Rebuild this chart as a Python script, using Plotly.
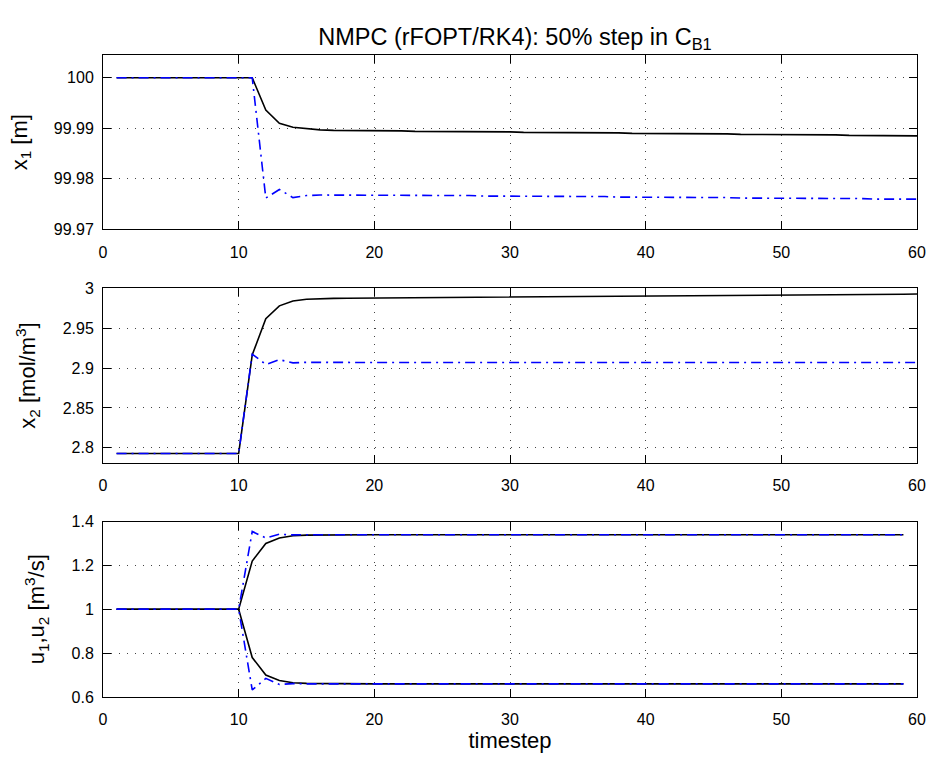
import plotly.graph_objects as go

# ---------------- data ----------------
t_states = [1, 2, 3, 4, 5, 6, 7, 8, 9, 10, 11, 12, 13, 14, 15, 16, 17, 18, 19, 20,
            21, 22, 23, 24, 25, 26, 27, 28, 29, 30, 31, 32, 33, 34, 35, 36, 37, 38, 39, 40,
            41, 42, 43, 44, 45, 46, 47, 48, 49, 50, 51, 52, 53, 54, 55, 56, 57, 58, 59, 60]
t_inputs = t_states[:59]

x1_black = [100.0, 100.0, 100.0, 100.0, 100.0, 100.0, 100.0, 100.0, 100.0, 100.0,
            100.0, 99.9936, 99.9910, 99.9902, 99.9899, 99.9897, 99.9896, 99.9896, 99.9895, 99.9895,
            99.9895, 99.9895, 99.9894, 99.9894, 99.9894, 99.9894, 99.9893, 99.9893, 99.9893, 99.9893,
            99.9892, 99.9892, 99.9892, 99.9892, 99.9891, 99.9891, 99.9891, 99.9891, 99.9890, 99.9890,
            99.9890, 99.9890, 99.9889, 99.9889, 99.9889, 99.9889, 99.9888, 99.9888, 99.9888, 99.9888,
            99.9887, 99.9887, 99.9887, 99.9887, 99.9886, 99.9886, 99.9886, 99.9886, 99.9885, 99.9885]
x1_blue = [100.0, 100.0, 100.0, 100.0, 100.0, 100.0, 100.0, 100.0, 100.0, 100.0,
           100.0, 99.9762, 99.9779, 99.9763, 99.9767, 99.9768, 99.9768, 99.9768, 99.9768, 99.9768,
           99.9768, 99.9767, 99.9767, 99.9767, 99.9767, 99.9767, 99.9767, 99.9766, 99.9766, 99.9766,
           99.9766, 99.9766, 99.9766, 99.9765, 99.9765, 99.9765, 99.9765, 99.9764, 99.9764, 99.9764,
           99.9764, 99.9764, 99.9763, 99.9763, 99.9763, 99.9763, 99.9762, 99.9762, 99.9762, 99.9762,
           99.9762, 99.9761, 99.9761, 99.9761, 99.9761, 99.9761, 99.9760, 99.9760, 99.9760, 99.9760]

x2_black = [2.7929, 2.7929, 2.7929, 2.7929, 2.7929, 2.7929, 2.7929, 2.7929, 2.7929, 2.7929,
            2.9165, 2.9620, 2.9780, 2.9840, 2.9862, 2.9870, 2.9874, 2.9876, 2.9877, 2.9878,
            2.9879, 2.9880, 2.9881, 2.9882, 2.9883, 2.9884, 2.9885, 2.9886, 2.9887, 2.9888,
            2.9889, 2.9890, 2.9891, 2.9892, 2.9893, 2.9894, 2.9895, 2.9896, 2.9897, 2.9898,
            2.9899, 2.9900, 2.9901, 2.9902, 2.9903, 2.9904, 2.9905, 2.9906, 2.9907, 2.9908,
            2.9910, 2.9912, 2.9914, 2.9916, 2.9918, 2.9920, 2.9922, 2.9924, 2.9926, 2.9928]
x2_blue = [2.7929, 2.7929, 2.7929, 2.7929, 2.7929, 2.7929, 2.7929, 2.7929, 2.7929, 2.7929,
           2.9175, 2.9045, 2.9105, 2.9065, 2.9072, 2.9070, 2.9070, 2.9070, 2.9070, 2.9070,
           2.9070, 2.9070, 2.9070, 2.9070, 2.9070, 2.9070, 2.9070, 2.9070, 2.9070, 2.9070,
           2.9070, 2.9070, 2.9070, 2.9070, 2.9070, 2.9070, 2.9070, 2.9070, 2.9070, 2.9070,
           2.9070, 2.9070, 2.9070, 2.9070, 2.9070, 2.9070, 2.9070, 2.9070, 2.9070, 2.9070,
           2.9070, 2.9070, 2.9070, 2.9070, 2.9070, 2.9070, 2.9070, 2.9070, 2.9070, 2.9070]

u1_black = [1.0, 1.0, 1.0, 1.0, 1.0, 1.0, 1.0, 1.0, 1.0, 1.0,
            1.22, 1.30, 1.325, 1.335, 1.338, 1.339, 1.34, 1.34, 1.34, 1.34,
            1.34, 1.34, 1.34, 1.34, 1.34, 1.34, 1.34, 1.34, 1.34, 1.34,
            1.34, 1.34, 1.34, 1.34, 1.34, 1.34, 1.34, 1.34, 1.34, 1.34,
            1.34, 1.34, 1.34, 1.34, 1.34, 1.34, 1.34, 1.34, 1.34, 1.34,
            1.34, 1.34, 1.34, 1.34, 1.34, 1.34, 1.34, 1.34, 1.34]
u2_black = [1.0, 1.0, 1.0, 1.0, 1.0, 1.0, 1.0, 1.0, 1.0, 1.0,
            0.78, 0.70, 0.675, 0.665, 0.662, 0.661, 0.66, 0.66, 0.66, 0.66,
            0.66, 0.66, 0.66, 0.66, 0.66, 0.66, 0.66, 0.66, 0.66, 0.66,
            0.66, 0.66, 0.66, 0.66, 0.66, 0.66, 0.66, 0.66, 0.66, 0.66,
            0.66, 0.66, 0.66, 0.66, 0.66, 0.66, 0.66, 0.66, 0.66, 0.66,
            0.66, 0.66, 0.66, 0.66, 0.66, 0.66, 0.66, 0.66, 0.66]
u1_blue = [1.0, 1.0, 1.0, 1.0, 1.0, 1.0, 1.0, 1.0, 1.0, 1.0,
           1.355, 1.325, 1.342, 1.339, 1.34, 1.34, 1.34, 1.34, 1.34, 1.34,
           1.34, 1.34, 1.34, 1.34, 1.34, 1.34, 1.34, 1.34, 1.34, 1.34,
           1.34, 1.34, 1.34, 1.34, 1.34, 1.34, 1.34, 1.34, 1.34, 1.34,
           1.34, 1.34, 1.34, 1.34, 1.34, 1.34, 1.34, 1.34, 1.34, 1.34,
           1.34, 1.34, 1.34, 1.34, 1.34, 1.34, 1.34, 1.34, 1.34]
u2_blue = [1.0, 1.0, 1.0, 1.0, 1.0, 1.0, 1.0, 1.0, 1.0, 1.0,
           0.632, 0.685, 0.657, 0.661, 0.66, 0.66, 0.66, 0.66, 0.66, 0.66,
           0.66, 0.66, 0.66, 0.66, 0.66, 0.66, 0.66, 0.66, 0.66, 0.66,
           0.66, 0.66, 0.66, 0.66, 0.66, 0.66, 0.66, 0.66, 0.66, 0.66,
           0.66, 0.66, 0.66, 0.66, 0.66, 0.66, 0.66, 0.66, 0.66, 0.66,
           0.66, 0.66, 0.66, 0.66, 0.66, 0.66, 0.66, 0.66, 0.66]

x_ticks = [0, 10, 20, 30, 40, 50, 60]
y1_ticks = [99.97, 99.98, 99.99, 100.0]
y1_ticktext = ["99.97", "99.98", "99.99", "100"]
y2_ticks = [2.8, 2.85, 2.9, 2.95, 3.0]
y2_ticktext = ["2.8", "2.85", "2.9", "2.95", "3"]
y3_ticks = [0.6, 0.8, 1.0, 1.2, 1.4]
y3_ticktext = ["0.6", "0.8", "1", "1.2", "1.4"]

title_text = "NMPC (rFOPT/RK4): 50% step in C<sub>B1</sub>"
ylabels = ["x<sub>1</sub> [m]", "x<sub>2</sub> [mol/m<sup>3</sup>]",
           "u<sub>1</sub>,u<sub>2</sub> [m<sup>3</sup>/s]"]
xlabel = "timestep"

# ---------------- figure ----------------
FONT = "Arial, Liberation Sans, Helvetica, sans-serif"
BLACK = dict(color="black", width=1.6)
BLUE = dict(color="#0000ff", width=1.6, dash="10px,5px,2px,5px")

fig = go.Figure()
fig.add_trace(go.Scatter(x=t_states, y=x1_black, mode="lines", line=BLACK, xaxis="x", yaxis="y"))
fig.add_trace(go.Scatter(x=t_states, y=x1_blue, mode="lines", line=BLUE, xaxis="x", yaxis="y"))
fig.add_trace(go.Scatter(x=t_states, y=x2_black, mode="lines", line=BLACK, xaxis="x2", yaxis="y2"))
fig.add_trace(go.Scatter(x=t_states, y=x2_blue, mode="lines", line=BLUE, xaxis="x2", yaxis="y2"))
fig.add_trace(go.Scatter(x=t_inputs, y=u1_black, mode="lines", line=BLACK, xaxis="x3", yaxis="y3"))
fig.add_trace(go.Scatter(x=t_inputs, y=u2_black, mode="lines", line=BLACK, xaxis="x3", yaxis="y3"))
fig.add_trace(go.Scatter(x=t_inputs, y=u1_blue, mode="lines", line=BLUE, xaxis="x3", yaxis="y3"))
fig.add_trace(go.Scatter(x=t_inputs, y=u2_blue, mode="lines", line=BLUE, xaxis="x3", yaxis="y3"))

common = dict(
    showline=True, linecolor="black", linewidth=1, mirror="ticks",
    ticks="inside", ticklen=8, tickcolor="black", tickwidth=1,
    showgrid=True, gridcolor="#444444", gridwidth=1, griddash="1px,7px",
    zeroline=False, tickfont=dict(family=FONT, size=16, color="black"),
)

domains = [[0.7283, 1.0], [0.3649, 0.6366], [0.0, 0.2733]]
yranges = [[99.97, 100.0045], [2.7813, 3.0], [0.6, 1.4]]
yticks = [(y1_ticks, y1_ticktext), (y2_ticks, y2_ticktext), (y3_ticks, y3_ticktext)]

layout = dict(
    width=938, height=758,
    margin=dict(l=103, r=15, t=55, b=59),
    paper_bgcolor="white", plot_bgcolor="white",
    showlegend=False,
    font=dict(family=FONT, color="black"),
    title=dict(text=title_text, x=0.549, xanchor="center", y=0.951, yanchor="middle",
               font=dict(family=FONT, size=23.5, color="black")),
)
for i in range(3):
    sx = "" if i == 0 else str(i + 1)
    xa = dict(common, domain=[0, 1], range=[0, 60], tickvals=x_ticks,
              anchor="y" + sx, ticklabelstandoff=8)
    if i == 2:
        xa["title"] = dict(text=xlabel, font=dict(family=FONT, size=22), standoff=2)
    ya = dict(common, domain=domains[i], range=yranges[i], tickvals=yticks[i][0],
              ticktext=yticks[i][1], anchor="x" + sx, ticklabelstandoff=5,
              title=dict(text=ylabels[i], font=dict(family=FONT, size=22), standoff=20))
    layout["xaxis" + sx] = xa
    layout["yaxis" + sx] = ya

fig.update_layout(**layout)
fig.write_html("out.html", config={"displayModeBar": False},
               post_script="document.body.style.margin='0';document.body.style.padding='0';")
